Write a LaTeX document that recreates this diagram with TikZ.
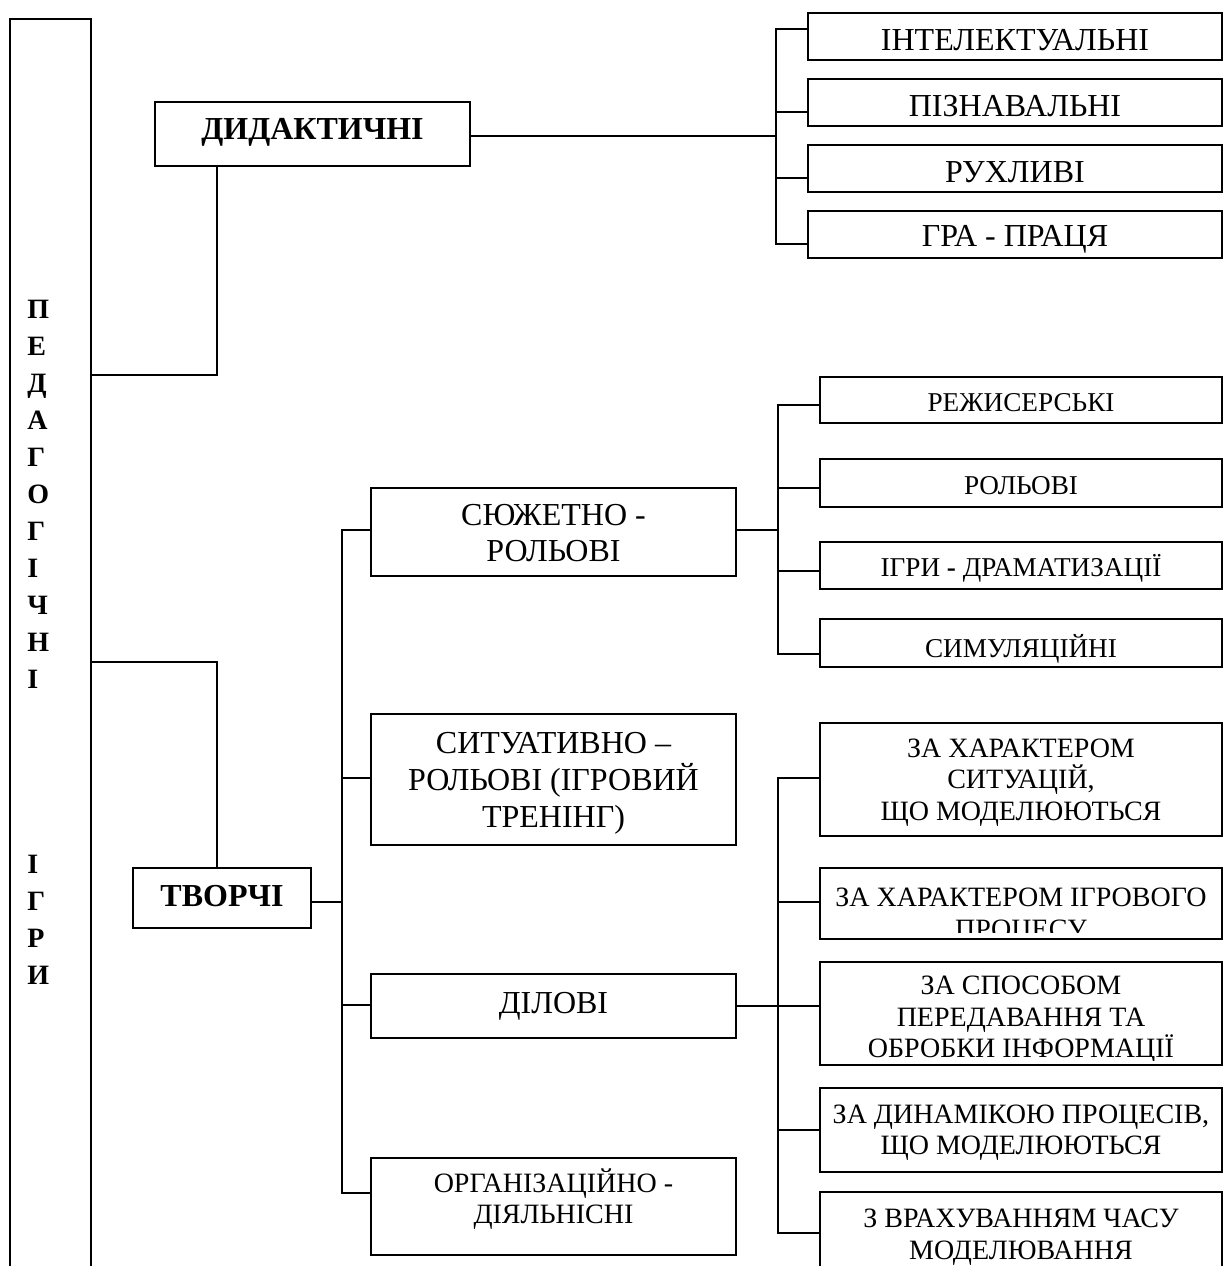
\documentclass[tikz,border=0pt]{standalone}
\usepackage{fontspec}
\setmainfont{Liberation Serif}
\usetikzlibrary{fit}
\begin{document}
\begin{tikzpicture}[x=0.5pt,y=-0.5pt,
  box/.style={draw, line width=0.75pt, inner sep=0pt, rectangle},
  ln/.style={line width=0.75pt},
  tA/.style={font=\fontsize{16}{18.4}\selectfont, align=center, inner sep=0pt},
  tB/.style={font=\fontsize{16}{18.4}\selectfont\bfseries, align=center, inner sep=0pt},
  tC/.style={font=\fontsize{14}{15.8}\selectfont, align=center, inner sep=0pt},
  tD/.style={font=\fontsize{13.6}{15.5}\selectfont, align=center, inner sep=0pt},
  tV/.style={font=\fontsize{14}{18.5}\selectfont\bfseries, align=left, inner sep=0pt}]
\useasboundingbox (0,0) rectangle (1224,1266);
\clip (0,0) rectangle (1224,1266);

% main vertical box
\node[box, fit={(10,19) (91,1300)}] (ped) {};
\node[tV, anchor=north west] (pedtxt) at (27,300) {П\\Е\\Д\\А\\Г\\О\\Г\\І\\Ч\\Н\\І\\\mbox{}\\\mbox{}\\\mbox{}\\\mbox{}\\І\\Г\\Р\\И};

% level 1
\node[box, fit={(155,102) (470,166)}] (did) {};
\node[tB] (tdid) at (312.5,132) {ДИДАКТИЧНІ};
\node[box, fit={(133,868) (311,928)}] (tv) {};
\node[tB] (ttv) at (222,896) {ТВОРЧІ};

% didactic group
\node[box, fit={(808,13) (1222,60)}] (i1) {};
\node[box, fit={(808,79) (1222,126)}] (i2) {};
\node[box, fit={(808,145) (1222,192)}] (i3) {};
\node[box, fit={(808,211) (1222,258)}] (i4) {};
\node[tA] (ti1) at (1015,40) {ІНТЕЛЕКТУАЛЬНІ};
\node[tA] (ti2) at (1015,106.5) {ПІЗНАВАЛЬНІ};
\node[tA] (ti3) at (1015,172.5) {РУХЛИВІ};
\node[tA] (ti4) at (1015,239) {ГРА - ПРАЦЯ};

% creative group
\node[box, fit={(371,488) (736,576)}] (s1) {};
\node[box, fit={(371,714) (736,845)}] (s2) {};
\node[box, fit={(371,974) (736,1038)}] (s3) {};
\node[box, fit={(371,1158) (736,1255)}] (s4) {};
\node[tA] (ts1) at (553.5,533) {СЮЖЕТНО -\\РОЛЬОВІ};
\node[tA] (ts2) at (553.5,783) {СИТУАТИВНО –\\РОЛЬОВІ (ІГРОВИЙ\\ТРЕНІНГ)};
\node[tA] (ts3) at (553.5,1006) {ДІЛОВІ};
\node[tC] (ts4) at (553.5,1199) {ОРГАНІЗАЦІЙНО -\\ДІЯЛЬНІСНІ};

% role-play subgroup
\node[box, fit={(820,377) (1222,423)}] (r1) {};
\node[box, fit={(820,459) (1222,507)}] (r2) {};
\node[box, fit={(820,542) (1222,589)}] (r3) {};
\node[box, fit={(820,619) (1222,667)}] (r4) {};
\node[tD] (tr1) at (1021,403) {РЕЖИСЕРСЬКІ};
\node[tD] (tr2) at (1021,485.5) {РОЛЬОВІ};
\node[tD] (tr3) at (1021,568) {ІГРИ \textbf{-} ДРАМАТИЗАЦІЇ};
\node[tD] (tr4) at (1021,648.5) {СИМУЛЯЦІЙНІ};

% business subgroup
\node[box, fit={(820,723) (1222,836)}] (z1) {};
\node[box, fit={(820,868) (1222,939)}] (z2) {};
\node[box, fit={(820,962) (1222,1065)}] (z3) {};
\node[box, fit={(820,1088) (1222,1172)}] (z4) {};
\node[box, fit={(820,1192) (1222,1320)}] (z5) {};
\node[tC] (tz1) at (1021,782.5) {ЗА ХАРАКТЕРОМ\\СИТУАЦІЙ,\\ЩО МОДЕЛЮЮТЬСЯ};
\begin{scope}
  \clip (820,868) rectangle (1222,932);
  \node[tC] (tz2) at (1021,916) {ЗА ХАРАКТЕРОМ ІГРОВОГО\\ПРОЦЕСУ};
\end{scope}
\begin{scope}
  \clip (820,962) rectangle (1222,1060);
  \node[tC] (tz3) at (1021,1020) {ЗА СПОСОБОМ\\ПЕРЕДАВАННЯ ТА\\ОБРОБКИ ІНФОРМАЦІЇ};
\end{scope}
\node[tC] (tz4) at (1021,1132.5) {ЗА ДИНАМІКОЮ ПРОЦЕСІВ,\\ЩО МОДЕЛЮЮТЬСЯ};
\node[tC] (tz5) at (1021,1237) {З ВРАХУВАННЯМ ЧАСУ\\МОДЕЛЮВАННЯ};

% junction coordinates
\coordinate (a0) at (217,375);
\coordinate (b0) at (217,662);
\coordinate (c0) at (776,136);
\coordinate (c1) at (776,29);
\coordinate (c2) at (776,112);
\coordinate (c3) at (776,178);
\coordinate (c4) at (776,244);
\coordinate (k0) at (342,902);
\coordinate (m1) at (342,530);
\coordinate (m2) at (342,778);
\coordinate (m3) at (342,1005);
\coordinate (m4) at (342,1193);
\coordinate (d0) at (778,530);
\coordinate (d1) at (778,405);
\coordinate (d2) at (778,488);
\coordinate (d3) at (778,571);
\coordinate (d4) at (778,654);
\coordinate (e0) at (778,1006);
\coordinate (e1) at (778,778);
\coordinate (e2) at (778,902);
\coordinate (e3) at (778,1006);
\coordinate (e4) at (778,1130);
\coordinate (e5) at (778,1233);

% connectors
\draw[ln] (a0 -| ped.east) -- (a0) -- (a0 |- did.south);
\draw[ln] (b0 -| ped.east) -- (b0) -- (b0 |- tv.north);
\draw[ln] (did.east |- c0) -- (c0);
\draw[ln] (c1 -| i1.west) -- (c1) -- (c4) -- (c4 -| i4.west);
\draw[ln] (c2) -- (c2 -| i2.west);
\draw[ln] (c3) -- (c3 -| i3.west);

\draw[ln] (tv.east |- k0) -- (k0);
\draw[ln] (m1 -| s1.west) -- (m1) -- (m4) -- (m4 -| s4.west);
\draw[ln] (m2) -- (m2 -| s2.west);
\draw[ln] (m3) -- (m3 -| s3.west);

\draw[ln] (s1.east |- d0) -- (d0);
\draw[ln] (d1 -| r1.west) -- (d1) -- (d4) -- (d4 -| r4.west);
\draw[ln] (d2) -- (d2 -| r2.west);
\draw[ln] (d3) -- (d3 -| r3.west);

\draw[ln] (s3.east |- e0) -- (e0);
\draw[ln] (e1 -| z1.west) -- (e1) -- (e5) -- (e5 -| z5.west);
\draw[ln] (e2) -- (e2 -| z2.west);
\draw[ln] (e3) -- (e3 -| z3.west);
\draw[ln] (e4) -- (e4 -| z4.west);
\end{tikzpicture}
\end{document}
